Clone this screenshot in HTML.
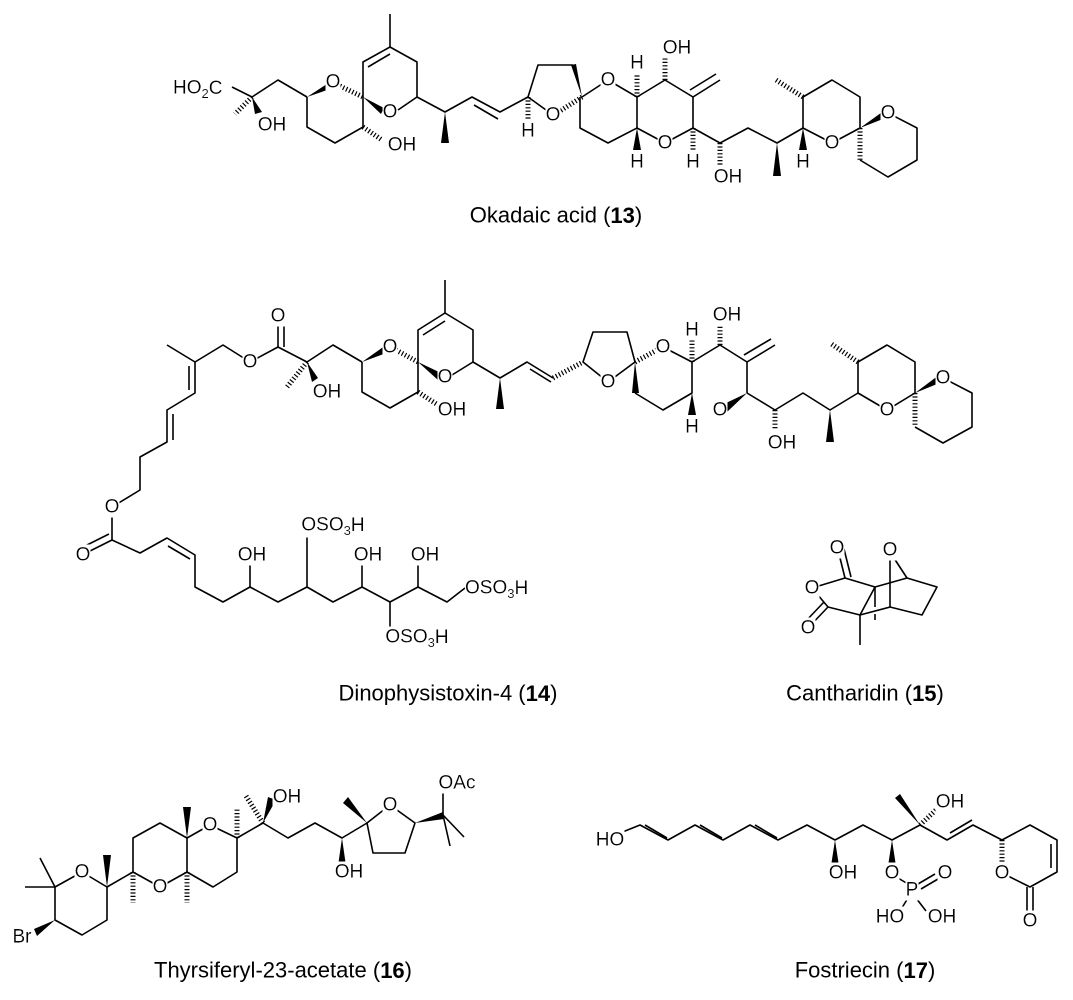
<!DOCTYPE html>
<html><head><meta charset="utf-8"><style>
html,body{margin:0;padding:0;background:#fff;}
svg{display:block}
.b{stroke:#000;stroke-width:1.6;fill:none;stroke-linejoin:round}
.h{stroke:#000;stroke-width:5;stroke-dasharray:1.2 2.2;fill:none}
.w{fill:#000;stroke:none}
text{font-family:"Liberation Sans",sans-serif;font-size:19px;fill:#000;text-anchor:middle;dominant-baseline:central;filter:url(#bg)}
text.c{font-size:22px;filter:none}
tspan.s{font-size:13px}
</style></head><body>
<svg width="1073" height="1000" viewBox="0 0 1073 1000" xmlns="http://www.w3.org/2000/svg">
<defs><filter id="bg" x="0" y="0" width="1" height="1"><feFlood flood-color="#fff"/><feComposite in="SourceGraphic"/></filter></defs>
<!-- ===== Okadaic acid ===== -->
<polyline class="b" points="232,87 252,97 278,80 307,97"/>
<line class="h" x1="252" y1="97" x2="235" y2="114"/>
<polygon class="w" points="252,97 255,114 262,112"/>
<polygon class="w" points="307,97 330,82 333,88"/>
<line class="h" x1="340" y1="86" x2="363" y2="97"/>
<polyline class="b" points="307,97 307,127 335,143 363,127 363,97"/>
<line class="h" x1="363" y1="127" x2="382" y2="140"/>
<polygon class="w" points="363,97 384,108 381,114"/>
<polyline class="b" points="363,97 363,62 390,47 417,62 417,97 398,110"/>
<line class="b" x1="368" y1="67" x2="390" y2="54"/>
<line class="b" x1="390" y1="47" x2="390" y2="14"/>
<polyline class="b" points="417,97 445,112 472,97 500,112 528,97"/>
<line class="b" x1="474" y1="105" x2="498" y2="119"/>
<polygon class="w" points="445,112 441,143 449,143"/>
<line class="h" x1="528" y1="97" x2="528" y2="120"/>
<polyline class="b" points="553,115 528,97 538,65 573,65"/>
<polygon class="w" points="571,65 576,64 582,97"/>
<line class="h" x1="582" y1="97" x2="560" y2="111"/>
<polyline class="b" points="582,97 608,80 637,97 665,80 693,97 693,128 665,143 637,128 608,143 580,128 580,97"/>
<line class="b" x1="637" y1="97" x2="637" y2="128"/>
<line class="h" x1="637" y1="97" x2="637" y2="75"/>
<polygon class="w" points="637,128 633,150 641,150"/>
<line class="h" x1="665" y1="80" x2="665" y2="58"/>
<line class="b" x1="693" y1="97" x2="720" y2="80"/>
<line class="b" x1="690" y1="90" x2="716" y2="74"/>
<line class="h" x1="693" y1="128" x2="693" y2="150"/>
<polyline class="b" points="693,128 720,143 748,128 777,143 803,128"/>
<line class="h" x1="720" y1="143" x2="720" y2="165"/>
<polygon class="w" points="777,143 773,176 781,176"/>
<polygon class="w" points="803,128 799,150 807,150"/>
<polyline class="b" points="803,128 803,97 832,80 860,97 860,128 832,143 803,128"/>
<line class="h" x1="803" y1="97" x2="776" y2="80"/>
<polygon class="w" points="860,128 885,110 888,117"/>
<polyline class="b" points="888,113 917,128 917,160 888,177 860,160"/>
<line class="h" x1="860" y1="128" x2="860" y2="160"/>
<text x="173" y="88" style="text-anchor:start">HO<tspan class="s" dy="5">2</tspan><tspan dy="-5">C</tspan></text>
<text x="272" y="125">OH</text>
<text x="333" y="82">O</text>
<text x="402" y="145">OH</text>
<text x="390" y="112">O</text>
<text x="528" y="131">H</text>
<text x="553" y="115">O</text>
<text x="608" y="80">O</text>
<text x="637" y="63">H</text>
<text x="677" y="48">OH</text>
<text x="665" y="143">O</text>
<text x="637" y="162">H</text>
<text x="693" y="162">H</text>
<text x="728" y="177">OH</text>
<text x="803" y="162">H</text>
<text x="832" y="143">O</text>
<text x="888" y="113">O</text>
<text class="c" x="556" y="215">Okadaic acid (<tspan font-weight="bold">13</tspan>)</text>

<!-- ===== Dinophysistoxin-4 ===== -->
<polyline class="b" points="167,345 195,362 223,345 250,362 278,347 307,362 333,345 362,362"/>
<line class="b" x1="278" y1="347" x2="278" y2="318"/>
<line class="b" x1="284" y1="347" x2="284" y2="320"/>
<line class="h" x1="307" y1="362" x2="287" y2="387"/>
<polygon class="w" points="307,362 312,382 318,378"/>
<polygon class="w" points="362,362 386,345 389,352"/>
<line class="h" x1="396" y1="350" x2="418" y2="362"/>
<polyline class="b" points="362,362 362,392 390,408 418,392 418,362"/>
<line class="h" x1="418" y1="392" x2="438" y2="405"/>
<polygon class="w" points="418,362 441,373 438,380"/>
<polyline class="b" points="418,362 418,330 445,313 473,330 473,362 452,375"/>
<line class="b" x1="423" y1="335" x2="445" y2="321"/>
<line class="b" x1="445" y1="313" x2="445" y2="280"/>
<polyline class="b" points="473,362 500,378 527,362 553,378"/>
<line class="b" x1="530" y1="369" x2="551" y2="382"/>
<polygon class="w" points="500,378 496,409 504,409"/>
<line class="h" x1="553" y1="378" x2="583" y2="362"/>
<polyline class="b" points="608,382 583,362 593,332 627,332 635,362 608,382"/>
<line class="h" x1="635" y1="362" x2="657" y2="350"/>
<polygon class="w" points="635,362 632,393 639,393"/>
<polyline class="b" points="635,393 663,410 692,393 692,362 663,347"/>
<line class="h" x1="692" y1="362" x2="692" y2="340"/>
<polygon class="w" points="692,393 688,415 696,415"/>
<polyline class="b" points="692,362 720,345 747,362 747,393"/>
<line class="h" x1="720" y1="345" x2="720" y2="325"/>
<line class="b" x1="747" y1="362" x2="775" y2="345"/>
<line class="b" x1="744" y1="355" x2="771" y2="339"/>
<polygon class="w" points="747,393 724,404 727,412"/>
<polyline class="b" points="747,393 775,410 803,393 830,410 858,393"/>
<line class="h" x1="775" y1="410" x2="775" y2="430"/>
<polygon class="w" points="830,410 826,442 834,442"/>
<polyline class="b" points="858,393 858,362 887,345 915,362 915,393 887,410 858,393"/>
<line class="h" x1="858" y1="362" x2="830" y2="343"/>
<polygon class="w" points="915,393 939,375 942,382"/>
<polyline class="b" points="943,378 972,393 972,427 943,443 915,427"/>
<line class="h" x1="915" y1="393" x2="915" y2="427"/>
<!-- left chain -->
<polyline class="b" points="195,362 195,393 167,410 167,442 140,457 140,490 112,507 112,540 140,553 167,538 195,555 195,587 223,602 250,587 278,602 307,587 333,602 362,587 390,602 418,587 447,602 465,588"/>
<line class="b" x1="189" y1="366" x2="189" y2="390"/>
<line class="b" x1="173" y1="414" x2="173" y2="440"/>
<line class="b" x1="168" y1="546" x2="190" y2="559"/>
<line class="b" x1="112" y1="540" x2="84" y2="554"/>
<line class="b" x1="109" y1="534" x2="81" y2="548"/>
<line class="b" x1="250" y1="587" x2="250" y2="560"/>
<line class="b" x1="307" y1="587" x2="307" y2="530"/>
<line class="b" x1="362" y1="587" x2="362" y2="560"/>
<line class="b" x1="390" y1="602" x2="390" y2="628"/>
<line class="b" x1="418" y1="587" x2="418" y2="560"/>
<text x="278" y="316">O</text>
<text x="250" y="362">O</text>
<text x="327" y="392">OH</text>
<text x="390" y="347">O</text>
<text x="452" y="410">OH</text>
<text x="445" y="377">O</text>
<text x="608" y="382">O</text>
<text x="663" y="347">O</text>
<text x="692" y="330">H</text>
<text x="692" y="427">H</text>
<text x="727" y="315">OH</text>
<text x="720" y="410">O</text>
<text x="782" y="443">OH</text>
<text x="887" y="410">O</text>
<text x="943" y="378">O</text>
<text x="112" y="507">O</text>
<text x="83" y="555">O</text>
<text x="252" y="555">OH</text>
<text x="333" y="525">OSO<tspan class="s" dy="5">3</tspan><tspan dy="-5">H</tspan></text>
<text x="368" y="555">OH</text>
<text x="417" y="637">OSO<tspan class="s" dy="5">3</tspan><tspan dy="-5">H</tspan></text>
<text x="425" y="555">OH</text>
<text x="465" y="588" style="text-anchor:start">OSO<tspan class="s" dy="5">3</tspan><tspan dy="-5">H</tspan></text>
<text class="c" x="448" y="693">Dinophysistoxin-4 (<tspan font-weight="bold">14</tspan>)</text>

<!-- ===== Cantharidin ===== -->
<polyline class="b" points="812,588 845,578 875,587 860,615 828,607 812,588"/>
<line class="b" x1="845" y1="578" x2="838" y2="550"/>
<line class="b" x1="851" y1="577" x2="844" y2="549"/>
<line class="b" x1="828" y1="607" x2="808" y2="628"/>
<line class="b" x1="824" y1="602" x2="804" y2="623"/>
<polyline class="b" points="875,587 907,578 937,587 922,615 890,607 860,615"/>
<line class="b" x1="890" y1="552" x2="890" y2="607"/>
<line class="b" x1="890" y1="552" x2="907" y2="578"/>
<line class="b" x1="860" y1="615" x2="860" y2="645"/>
<line class="b" x1="875" y1="587" x2="875" y2="607"/>
<line class="b" x1="875" y1="614" x2="875" y2="620"/>
<text x="837" y="548">O</text>
<text x="812" y="588">O</text>
<text x="808" y="628">O</text>
<text x="890" y="550">O</text>
<text class="c" x="865" y="693">Cantharidin (<tspan font-weight="bold">15</tspan>)</text>

<!-- ===== Thyrsiferyl-23-acetate ===== -->
<line class="b" x1="25" y1="887" x2="55" y2="887"/>
<polyline class="b" points="40,858 55,887 82,872 107,887 107,920 82,935 55,920 55,887"/>
<polygon class="w" points="55,920 34,929 37,936"/>
<polygon class="w" points="107,887 103,855 111,855"/>
<polyline class="b" points="107,887 133,872 160,887 187,872 213,887 237,872 237,838 210,825 187,838 160,823 133,838 133,872"/>
<line class="b" x1="187" y1="838" x2="187" y2="872"/>
<line class="h" x1="133" y1="872" x2="133" y2="903"/>
<polygon class="w" points="187,838 183,807 191,807"/>
<line class="h" x1="187" y1="872" x2="187" y2="903"/>
<line class="h" x1="237" y1="838" x2="237" y2="808"/>
<polyline class="b" points="237,838 263,823 288,838 315,823 342,838 367,823 390,805 415,823 405,853 373,853 367,823"/>
<polygon class="w" points="263,823 268,797 276,800"/>
<line class="h" x1="263" y1="823" x2="246" y2="796"/>
<polygon class="w" points="342,838 338,866 346,866"/>
<polygon class="w" points="367,823 343,803 348,797"/>
<polygon class="w" points="415,823 443,812 444,819"/>
<line class="b" x1="443" y1="815" x2="443" y2="792"/>
<line class="b" x1="443" y1="815" x2="450" y2="846"/>
<line class="b" x1="443" y1="815" x2="464" y2="837"/>
<text x="82" y="872">O</text>
<text x="22" y="937">Br</text>
<text x="160" y="887">O</text>
<text x="210" y="825">O</text>
<text x="287" y="797">OH</text>
<text x="349" y="872">OH</text>
<text x="390" y="805">O</text>
<text x="457" y="783">OAc</text>
<text class="c" x="283" y="970">Thyrsiferyl-23-acetate (<tspan font-weight="bold">16</tspan>)</text>

<!-- ===== Fostriecin ===== -->
<polyline class="b" points="620,833 640,825 668,840 695,825 723,840 750,825 778,840 807,825 835,840 863,825 892,840 920,825 947,840 973,825 1002,840 1030,825 1057,840 1057,872 1030,887 1002,873"/>
<line class="b" x1="645" y1="825" x2="667" y2="838"/>
<line class="b" x1="700" y1="825" x2="722" y2="838"/>
<line class="b" x1="755" y1="825" x2="777" y2="838"/>
<line class="b" x1="950" y1="833" x2="972" y2="820"/>
<line class="b" x1="1051" y1="844" x2="1051" y2="868"/>
<polygon class="w" points="835,840 831,866 839,866"/>
<polygon class="w" points="892,840 888,866 896,866"/>
<polygon class="w" points="920,825 895,798 900,794"/>
<line class="h" x1="920" y1="825" x2="938" y2="808"/>
<line class="h" x1="1002" y1="840" x2="1002" y2="862"/>
<line class="b" x1="1027" y1="887" x2="1027" y2="912"/>
<line class="b" x1="1033" y1="887" x2="1033" y2="912"/>
<line class="b" x1="898" y1="878" x2="908" y2="884"/>
<line class="b" x1="918" y1="884" x2="935" y2="874"/>
<line class="b" x1="921" y1="889" x2="938" y2="879"/>
<line class="b" x1="908" y1="898" x2="900" y2="911"/>
<line class="b" x1="916" y1="898" x2="926" y2="911"/>
<text x="610" y="840">HO</text>
<text x="843" y="873">OH</text>
<text x="892" y="873">O</text>
<text x="912" y="890">P</text>
<text x="945" y="873">O</text>
<text x="890" y="917">HO</text>
<text x="942" y="917">OH</text>
<text x="950" y="802">OH</text>
<text x="1002" y="873">O</text>
<text x="1030" y="921">O</text>
<text class="c" x="865" y="970">Fostriecin (<tspan font-weight="bold">17</tspan>)</text>
</svg>
</body></html>
